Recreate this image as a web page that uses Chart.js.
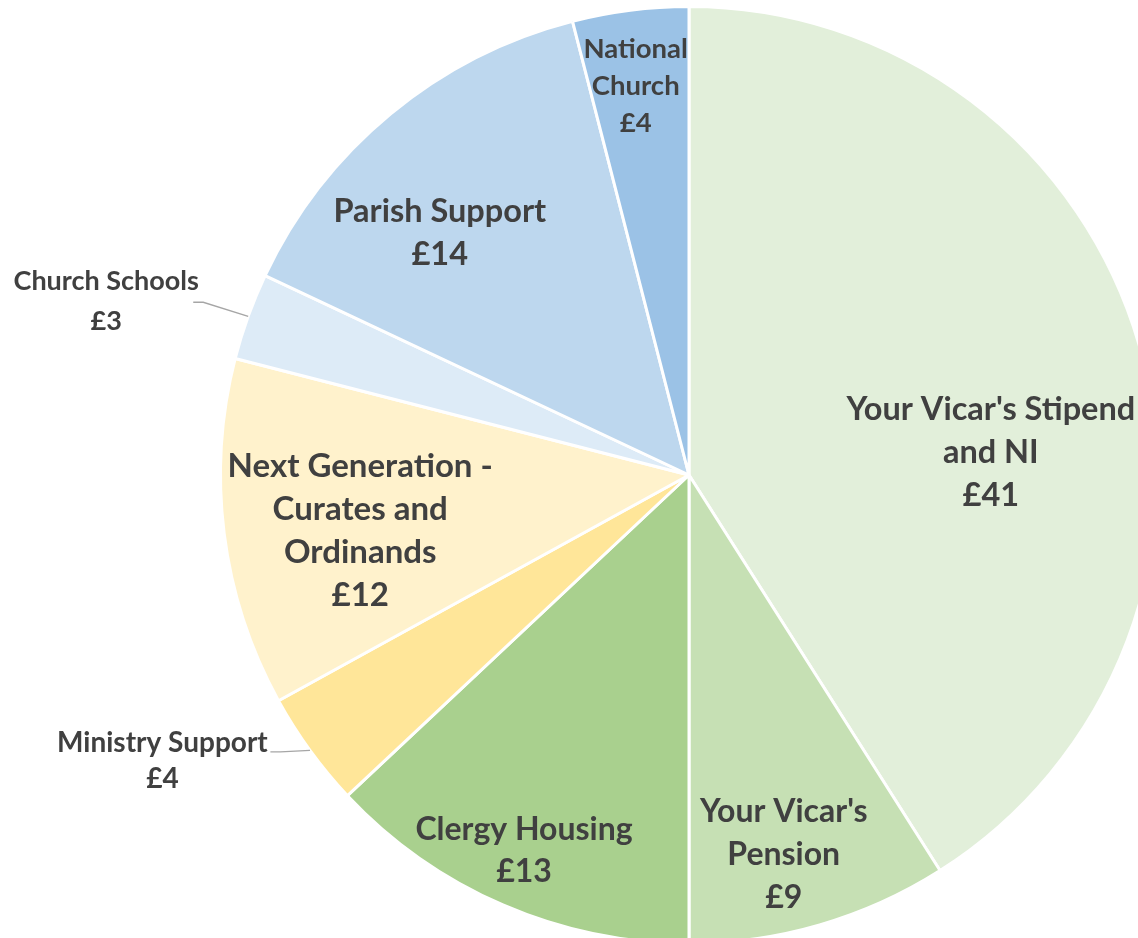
<!DOCTYPE html>
<html>
<head>
<meta charset="utf-8">
<script src="https://cdn.jsdelivr.net/npm/chart.js@4"></script>
<style>
  html, body { margin: 0; padding: 0; background: #fff; overflow: hidden; }
  #pie { position: absolute; left: 0; top: 0; }
</style>
</head>
<body>
<canvas id="pie" width="1378" height="950"></canvas>
<script>
// dados (cada categoria quebrada em linhas como no original)
const categories = [
  ["Your Vicar's Stipend", "and NI"],
  ["Your Vicar's", "Pension"],
  ["Clergy Housing"],
  ["Ministry Support"],
  ["Next Generation -", "Curates and", "Ordinands"],
  ["Church Schools"],
  ["Parish Support"],
  ["National", "Church"]
]
const values = [41, 9, 13, 4, 12, 3, 14, 4]
const colors = ['#E2EFDA', '#C6E0B4', '#A9D08E', '#FFE699', '#FFF2CC', '#DDEBF7', '#BDD7EE', '#9BC2E6']

// posicao dos rotulos: angulo (graus, a partir do topo, horario), raio relativo, fonte
const labelPos = [
  { ang: 85.8, r: 0.646, size: 32.5, lh: 43 },
  { ang: 166.0, r: 0.836, size: 32, lh: 43 },
  { ang: 203.7, r: 0.876, size: 32, lh: 42 },
  { ang: 241.5, r: 1.279, size: 28, lh: 36, lead: [108, -9] },
  { ang: 260.3, r: 0.712, size: 33, lh: 43 },
  { ang: 286.6, r: 1.298, size: 27, lh: 40, lead: [87, 1] },
  { ang: 314.2, r: 0.742, size: 32.5, lh: 43 },
  { ang: 352.2, r: 0.838, size: 27.5, lh: 37 }
]

const rotulos = {
  id: 'rotulos',
  afterDatasetsDraw(chart) {
    const ctx = chart.ctx
    const arcs = chart.getDatasetMeta(0).data
    arcs.forEach((arc, i) => {
      const p = labelPos[i]
      const R = arc.outerRadius
      const a = (p.ang - 90) * Math.PI / 180
      const cx = arc.x + Math.cos(a) * R * p.r
      const cy = arc.y + Math.sin(a) * R * p.r
      const lines = categories[i].concat(['£' + values[i]])

      // linha de chamada para fatias pequenas
      if (p.lead) {
        const mid = (arc.startAngle + arc.endAngle) / 2
        const ex = arc.x + Math.cos(mid) * R
        const ey = arc.y + Math.sin(mid) * R
        const sx = cx + p.lead[0]
        const sy = cy + p.lead[1]
        ctx.save()
        ctx.strokeStyle = '#A6A6A6'
        ctx.lineWidth = 1.3
        ctx.beginPath()
        ctx.moveTo(sx, sy)
        ctx.lineTo(sx + 10, sy)
        ctx.lineTo(ex, ey)
        ctx.stroke()
        ctx.restore()
      }

      ctx.save()
      ctx.fillStyle = '#404040'
      ctx.font = 'bold ' + p.size + 'px Lato, "Open Sans", sans-serif'
      ctx.textAlign = 'center'
      ctx.textBaseline = 'middle'
      const top = cy - (lines.length - 1) * p.lh / 2
      lines.forEach((t, k) => ctx.fillText(t, cx, top + k * p.lh))
      ctx.restore()
    })
  }
}

const pie = document.getElementById('pie')
new Chart(pie, {
  type: 'pie',
  data: {
    labels: categories,
    datasets: [{
      data: values,
      backgroundColor: colors,
      borderColor: '#ffffff',
      borderWidth: 3
    }]
  },
  options: {
    responsive: false,
    animation: false,
    layout: { padding: 5 },
    plugins: {
      legend: { display: false },
      tooltip: { enabled: false }
    }
  },
  plugins: [rotulos]
})
</script>
</body>
</html>
